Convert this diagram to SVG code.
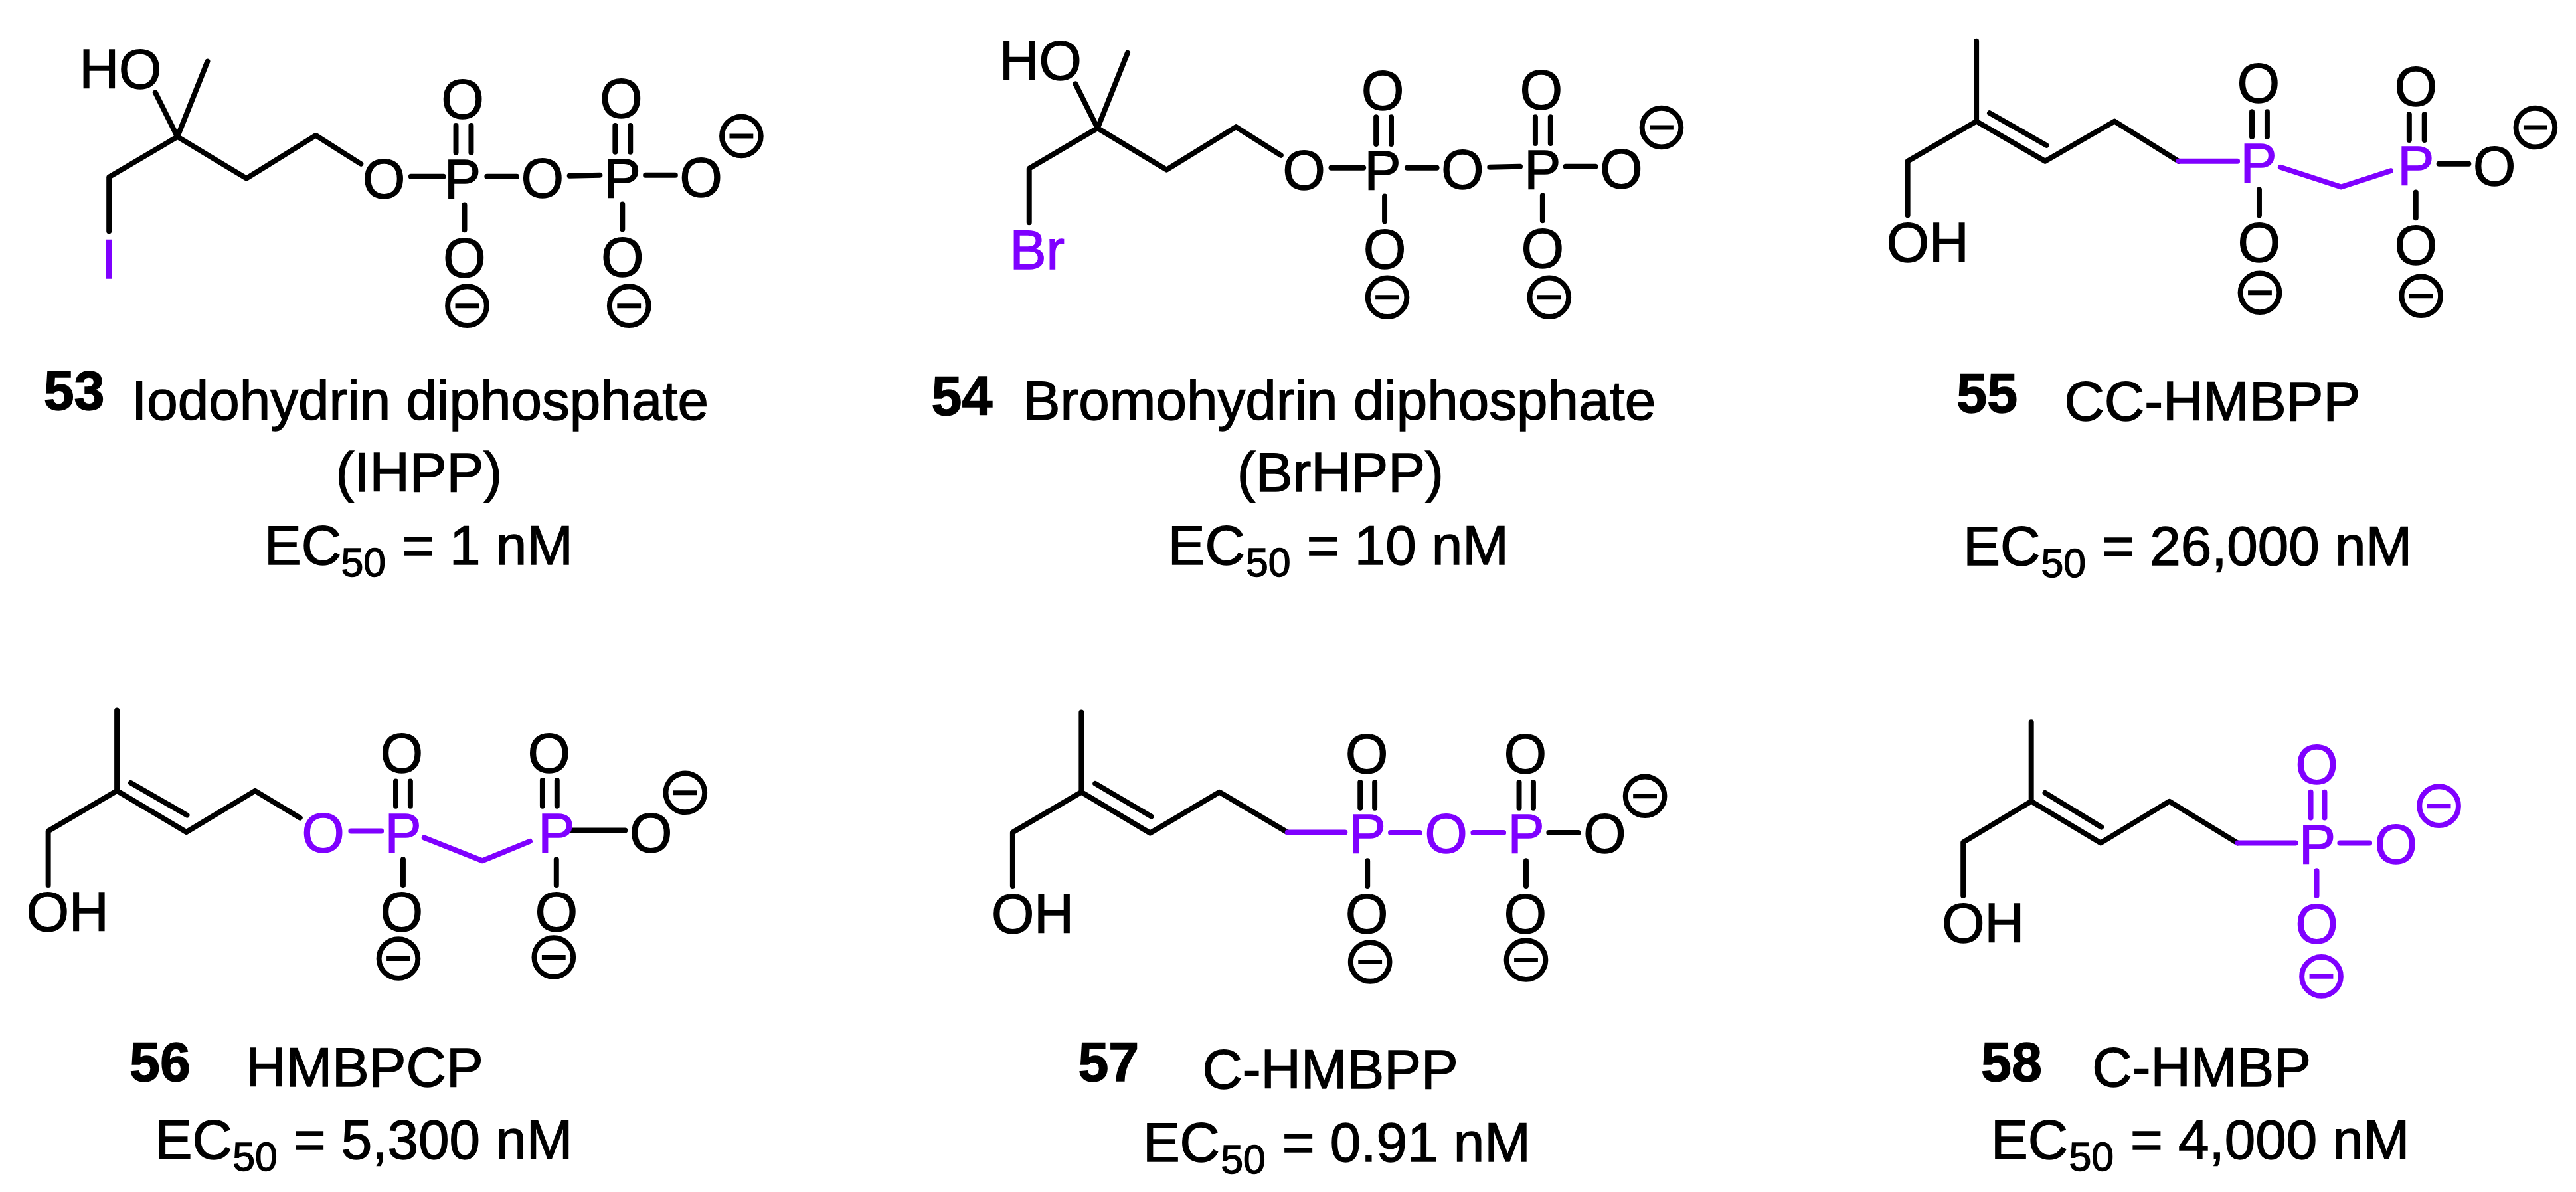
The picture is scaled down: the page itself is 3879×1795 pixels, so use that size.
<svg xmlns="http://www.w3.org/2000/svg" width="3879" height="1795" viewBox="0 0 3879 1795">
<style>
text{font-family:"Liberation Sans",Arial,sans-serif;fill:#000;stroke:#000;stroke-width:1.4}
.a{font-size:83px;text-anchor:middle}
.s{font-size:83px}
.c{font-size:84px}
.m{text-anchor:middle}
.n{font-size:83px;font-weight:bold}
.sub{font-size:61px}
.b{fill:none;stroke:#000;stroke-width:8;stroke-linecap:round;stroke-linejoin:round}
.v{fill:none;stroke:#7F00FF;stroke-width:8;stroke-linecap:round;stroke-linejoin:round}
text.pu{fill:#7F00FF;stroke:#7F00FF}
.ring{fill:none;stroke:#000;stroke-width:8}
.bar{stroke:#000;stroke-width:7}
.ring.vi{stroke:#7F00FF}
.bar.vi{stroke:#7F00FF}
</style>
<defs>
<g id="neg"><circle class="ring" r="29.5"/><path class="bar" d="M-18 0H18"/></g>
<g id="negv"><circle class="ring vi" r="29.5"/><path class="bar vi" d="M-18 0H18"/></g>
<g id="iodoTail">
<path class="b" d="M235 140L268.5 207M314 93L268.5 207M165 350V268L268.5 207L373 270L478 205L546 248"/>
<path class="b" d="M622 267H671M690 190V231M713 190V231M703 310V348M737 267H782M862 266L908 265M931 190V230M954 190V230M942 309V347M977 265H1022"/>
<text class="s" x="120" y="134">HO</text>
<text class="a" x="581" y="299">O</text><text class="a" x="700" y="299">P</text>
<text class="a" x="700" y="179">O</text><text class="a" x="703" y="419">O</text>
<text class="a" x="821" y="298">O</text><text class="a" x="942" y="298">P</text>
<text class="a" x="940" y="178">O</text><text class="a" x="942" y="418">O</text>
<text class="a" x="1061" y="297">O</text>
<use href="#neg" x="707" y="463"/><use href="#neg" x="952" y="463"/><use href="#neg" x="1122" y="206"/>
</g>
</defs>
<rect width="3879" height="1795" fill="#fff"/>

<g id="compound-53" transform="scale(.995)">
<use href="#iodoTail"/>
<text class="a pu" x="165" y="421">I</text>
<text class="n" x="66" y="620">53</text>
<text class="c" x="199" y="635">Iodohydrin diphosphate</text>
<text class="c m" x="634" y="744">(IHPP)</text>
<text class="c" x="400" y="854">EC<tspan class="sub" x="516" dy="18">50</tspan><tspan x="608" dy="-18">= 1 nM</tspan></text>
</g>

<g id="compound-54" transform="translate(1300,0) scale(.995) translate(-1300,0)">
<use href="#iodoTail" transform="translate(1386,-13)"/>
<text class="a pu" x="1563" y="407">Br</text>
<text class="n" x="1403" y="628">54</text>
<text class="c" x="1542" y="635">Bromohydrin diphosphate</text>
<text class="c m" x="2022" y="744">(BrHPP)</text>
<text class="c" x="1761" y="854">EC<tspan class="sub" x="1879" dy="18">50</tspan><tspan x="1971" dy="-18">= 10 nM</tspan></text>
</g>

<g id="compound-55" transform="translate(2600,0) scale(.995) translate(-2600,0)">
<g>
<path class="b" d="M2978 62V183.5M2874 326V244L2978 183.5L3082 244L3187 183.5L3284 244M2998 171L3084 220"/>
<path class="v" d="M3284 244H3373M3438 253L3530 283L3605 258.5"/>
<path class="b" d="M3395 169V207M3418 169V207M3406 287V326M3633 173V212M3656 173V212M3643 291V330M3678 248H3723"/>
</g>
<text class="s" x="2842" y="396">OH</text>
<text class="a pu" x="3405" y="275">P</text><text class="a pu" x="3643" y="279">P</text>
<text class="a" x="3405" y="155">O</text><text class="a" x="3406" y="396">O</text>
<text class="a" x="3643" y="160">O</text><text class="a" x="3643" y="400">O</text>
<text class="a" x="3762" y="280">O</text>
<use href="#neg" x="3407" y="443"/><use href="#neg" x="3651" y="448"/><use href="#neg" x="3824" y="193"/>
<text class="n" x="2948" y="624">55</text>
<text class="c" x="3111" y="636">CC-HMBPP</text>
<text class="c" x="2958" y="855">EC<tspan class="sub" x="3076" dy="18">50</tspan><tspan x="3168" dy="-18">= 26,000 nM</tspan></text>
</g>

<g id="compound-56" transform="translate(0,950) scale(.995) translate(0,-950)">
<g>
<path class="b" d="M177 1070V1192M73 1335V1253L177 1192L282 1254.5L386 1192L454 1233M198 1180L283 1229"/>
<path class="v" d="M531 1253H577M642 1263L730 1298L802 1268.5"/>
<path class="b" d="M599 1177.5V1215M621 1177.5V1215M610 1296V1335M821 1176V1215M843 1176V1215M842 1296V1335M864 1252H946"/>
</g>
<text class="s" x="40" y="1404">OH</text>
<text class="a pu" x="489" y="1285">O</text>
<text class="a pu" x="610" y="1285">P</text><text class="a pu" x="842" y="1285">P</text>
<text class="a" x="608" y="1164">O</text><text class="a" x="608" y="1404">O</text>
<text class="a" x="831" y="1164">O</text><text class="a" x="842" y="1404">O</text>
<text class="a" x="985" y="1285">O</text>
<use href="#neg" x="603" y="1446"/><use href="#neg" x="838" y="1444"/><use href="#neg" x="1037" y="1195"/>
<text class="n" x="196" y="1631">56</text>
<text class="c" x="372" y="1639">HMBPCP</text>
<text class="c" x="235" y="1749">EC<tspan class="sub" x="352" dy="18">50</tspan><tspan x="444" dy="-18">= 5,300 nM</tspan></text>
</g>

<g id="compound-57" transform="translate(1300,950) scale(.995) translate(-1300,-950)">
<g>
<path class="b" d="M1630 1073V1194M1526 1336V1255L1630 1194L1734 1256L1839 1194L1942 1255M1651 1181L1736 1231"/>
<path class="v" d="M1942 1255H2029M2098 1255.5H2142M2223 1255.5H2269"/>
<path class="b" d="M2052 1179V1218M2074 1179V1218M2063 1298V1336M2292.5 1179V1218M2314 1179V1218M2303 1298V1336M2337.5 1255.5H2382"/>
</g>
<text class="s" x="1494" y="1407">OH</text>
<text class="a pu" x="2063" y="1286">P</text><text class="a pu" x="2182" y="1286">O</text><text class="a pu" x="2303" y="1286">P</text>
<text class="a" x="2062" y="1165">O</text><text class="a" x="2062" y="1407">O</text>
<text class="a" x="2302" y="1165">O</text><text class="a" x="2302" y="1407">O</text>
<text class="a" x="2422" y="1286">O</text>
<use href="#neg" x="2067" y="1451"/><use href="#neg" x="2303" y="1448"/><use href="#neg" x="2483" y="1200"/>
<text class="n" x="1625" y="1631">57</text>
<text class="c" x="1813" y="1642">C-HMBPP</text>
<text class="c" x="1723" y="1753">EC<tspan class="sub" x="1841" dy="18">50</tspan><tspan x="1934" dy="-18">= 0.91 nM</tspan></text>
</g>

<g id="compound-58" transform="translate(2600,950) scale(.995) translate(-2600,-950)">
<g>
<path class="b" d="M3061 1088V1208M2958 1351V1270L3061 1208L3166 1271L3270 1208L3373 1271M3082 1195L3167 1247"/>
<path class="v" d="M3373 1271H3461M3484 1194V1233M3505 1194V1233M3493 1313V1351M3528 1271H3573"/>
</g>
<text class="s" x="2926" y="1421">OH</text>
<text class="a pu" x="3494" y="1302">P</text>
<text class="a pu" x="3493" y="1181">O</text><text class="a pu" x="3493" y="1422">O</text>
<text class="a pu" x="3613" y="1302">O</text>
<use href="#negv" x="3500" y="1473"/><use href="#negv" x="3678" y="1215"/>
<text class="n" x="2985" y="1631">58</text>
<text class="c" x="3153" y="1639">C-HMBP</text>
<text class="c" x="3000" y="1749">EC<tspan class="sub" x="3118" dy="18">50</tspan><tspan x="3211" dy="-18">= 4,000 nM</tspan></text>
</g>
</svg>
